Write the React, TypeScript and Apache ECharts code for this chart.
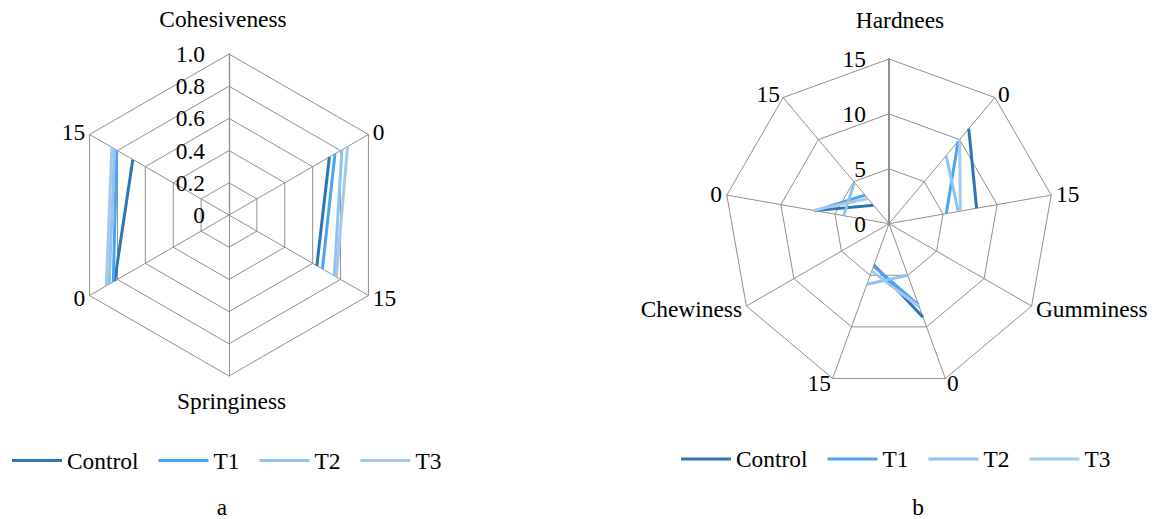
import React, { useEffect, useRef } from "react";
import * as echarts from "echarts";

const FONT = "Liberation Serif";
const GRID = "#8F8F8F";

// ---- chart a ----
const catsA = ["Cohesiveness", "0", "15", "Springiness", "0", "15"];
const ticksA = ["0", "0.2", "0.4", "0.6", "0.8", "1.0"];
const aControl = [null, 0.72, 0.63, null, 0.82, 0.69];
const aT1 = [null, 0.76, 0.67, null, 0.83, 0.805];
const aT2 = [null, 0.81, 0.755, null, 0.86, 0.82];
const aT3 = [null, 0.85, 0.77, null, 0.88, 0.84];

// ---- chart b ----
const catsB = ["Hardnees", "0", "15", "Gumminess", "0", "15", "Chewiness", "0", "15"];
const ticksB = ["0", "5", "10", "15"];
const bControl = [null, 11.3, 8.1, null, 9.06, 4.0, null, 6.86, 2.2];
const bT1 = [null, 9.8, 5.3, null, 7.9, 4.1, null, 6.8, 3.4];
const bT2 = [null, 8.1, 6.4, null, 5.0, 5.86, null, 4.2, 4.9];
const bT3 = [null, 10.0, 6.6, null, 8.05, 4.6, null, 7.0, 3.0];

const seriesNames = ["Control", "T1", "T2", "T3"];
const colors = ["#2E75B6", "#4DA3F2", "#8EC3F2", "#A6C8EA"];
const captions = ["a", "b"];

const dataA = [aControl, aT1, aT2, aT3];
const dataB = [bControl, bT1, bT2, bT3];

// radar indicators run counter-clockwise; reverse so they go clockwise from top
const ccwOrder = (cats: string[]) => [cats[0], ...cats.slice(1).reverse()];

const FS = 23.4;

const richBase = { fontSize: FS, fontFamily: FONT, color: "#000" };

export default function App() {
  const ref = useRef<HTMLDivElement>(null);
  useEffect(() => {
    if (!ref.current) return;
    const chart = echarts.init(ref.current, undefined, { renderer: "svg" });

    const nameFormatter = (name: string) => {
      if (name === "Cohesiveness") return `{ca|${name}}`;
      if (name === "Springiness") return `{sp|${name}}`;
      if (name === "Hardnees") return `{hd|${name}}`;
      return `{n|${name}}`;
    };
    const axisName = {
      formatter: nameFormatter,
      color: "#000",
      fontSize: FS,
      fontFamily: FONT,
      rich: {
        n: { ...richBase },
        ca: { ...richBase, padding: [0, 12, 19, 0] },
        sp: { ...richBase, padding: [8, 0, 0, 5] },
        hd: { ...richBase, padding: [0, 0, 23, 22] },
      },
    };
    const radarCommon = {
      startAngle: 90,
      shape: "polygon",
      nameGap: 5,
      axisName,
      splitLine: { lineStyle: { color: GRID, width: 1 } },
      axisLine: { lineStyle: { color: GRID, width: 1 } },
      splitArea: { show: false },
      axisTick: { show: false },
      axisLabel: { show: false },
    };

    const angleCommon = {
      type: "category",
      boundaryGap: false,
      startAngle: 90,
      clockwise: true,
      axisLine: { show: false },
      axisTick: { show: false },
      axisLabel: { show: false },
      splitLine: { show: false },
    };

    const legendCommon = {
      data: seriesNames,
      orient: "horizontal",
      padding: 0,
      itemWidth: 50,
      itemHeight: 3,
      icon: "rect",
      itemGap: 20,
      textStyle: { fontSize: FS, fontFamily: FONT, color: "#000" },
    };

    chart.setOption({
      animation: false,
      backgroundColor: "#fff",
      textStyle: { fontFamily: FONT },
      radar: [
        {
          ...radarCommon,
          center: [229, 215],
          radius: 161,
          splitNumber: ticksA.length - 1,
          indicator: ccwOrder(catsA).map((n) => ({ name: n, min: 0, max: 1 })),
        },
        {
          ...radarCommon,
          center: [889, 223.7],
          radius: 164.7,
          splitNumber: ticksB.length - 1,
          indicator: ccwOrder(catsB).map((n) => ({ name: n, min: 0, max: 15 })),
        },
      ],
      polar: [
        { center: [229, 215], radius: 161 },
        { center: [889, 223.7], radius: 164.7 },
      ],
      angleAxis: [
        { ...angleCommon, polarIndex: 0, data: catsA },
        { ...angleCommon, polarIndex: 1, data: catsB },
      ],
      radiusAxis: [
        {
          polarIndex: 0,
          type: "value",
          min: 0,
          max: 1,
          interval: 0.2,
          z: 3,
          axisLine: { show: true, lineStyle: { color: GRID, width: 1.3 } },
          axisTick: { show: false },
          splitLine: { show: false },
          axisLabel: {
            margin: 24,
            fontSize: FS,
            fontFamily: FONT,
            color: "#000",
            formatter: (v: number) => ticksA[Math.round(v / 0.2)],
          },
        },
        {
          polarIndex: 1,
          type: "value",
          min: 0,
          max: 15,
          interval: 5,
          z: 3,
          axisLine: { show: true, lineStyle: { color: GRID, width: 2 } },
          axisTick: { show: false },
          splitLine: { show: false },
          axisLabel: {
            margin: 23,
            fontSize: FS,
            fontFamily: FONT,
            color: "#000",
            formatter: (v: number) => ticksB[Math.round(v / 5)],
          },
        },
      ],
      legend: [
        { ...legendCommon, left: 12, top: 449 },
        { ...legendCommon, left: 681, top: 447.5 },
      ],
      graphic: [
        {
          type: "text",
          x: 222,
          y: 507,
          style: { text: captions[0], textAlign: "center", textVerticalAlign: "middle", fontSize: FS, fontFamily: FONT, fill: "#000" },
        },
        {
          type: "text",
          x: 918,
          y: 507,
          style: { text: captions[1], textAlign: "center", textVerticalAlign: "middle", fontSize: FS, fontFamily: FONT, fill: "#000" },
        },
      ],
      series: [
        ...seriesNames.map((n, i) => ({
          type: "line",
          name: n,
          coordinateSystem: "polar",
          polarIndex: 0,
          data: dataA[i],
          symbol: "none",
          connectNulls: false,
          z: 5,
          lineStyle: { width: 3, color: colors[i] },
          itemStyle: { color: colors[i] },
        })),
        ...seriesNames.map((n, i) => ({
          type: "line",
          name: n,
          coordinateSystem: "polar",
          polarIndex: 1,
          data: dataB[i],
          symbol: "none",
          connectNulls: false,
          z: 5,
          lineStyle: { width: 3, color: colors[i] },
          itemStyle: { color: colors[i] },
        })),
      ],
    });
    return () => chart.dispose();
  }, []);
  return (
    <div
      ref={ref}
      style={{ position: "fixed", left: 0, top: 0, width: 1157, height: 519, background: "#fff" }}
    />
  );
}
